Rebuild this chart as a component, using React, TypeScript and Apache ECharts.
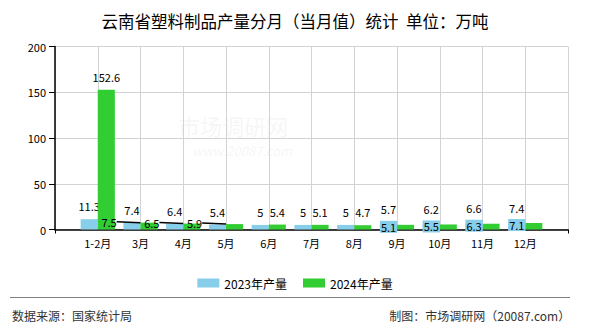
import React, { useEffect, useRef } from "react";
import * as echarts from "echarts";

const categories = ["1-2月", "3月", "4月", "5月", "6月", "7月", "8月", "9月", "10月", "11月", "12月"];
const values2023 = [11.3, 7.4, 6.4, 5.4, 5, 5, 5, 5.7, 6.2, 6.6, 7.4];
const values2024 = [152.6, 7.5, 6.5, 5.9, 5.4, 5.1, 4.7, 5.1, 5.5, 6.3, 7.1];
const yTicks = { min: 0, max: 200, interval: 50 };
const seriesNames = ["2023年产量", "2024年产量"];
const titleText = "云南省塑料制品产量分月（当月值）统计  单位：万吨";
const sourceText = "数据来源：国家统计局";
const makerText = "制图：市场调研网（20087.com）";

// 2024 labels moved to avoid overlap (indices into categories)
const leftShifted = [1, 2, 3];
const belowShifted = [7, 8, 9, 10];

const FONT = "'Noto Sans CJK SC', 'Noto Sans', sans-serif";

export default function App() {
  const ref = useRef<HTMLDivElement>(null);
  useEffect(() => {
    if (!ref.current) return;
    document.body.style.margin = "0";
    const chart = echarts.init(ref.current, null, { renderer: "svg" });
    const xData = ["", ...categories, ""];
    const d2023 = [null, ...values2023, null];
    const d2024: any[] = [
      null,
      ...values2024.map((v, i) => {
        if (belowShifted.includes(i)) {
          return {
            value: v,
            label: {
              backgroundColor: "#87CEEB",
              padding: [0, 1, 0, 1],
            },
          };
        }
        if (leftShifted.includes(i)) {
          return { value: v, labelLine: { show: true } };
        }
        return v;
      }),
      null,
    ];
    const labelStyle = {
      show: true,
      position: "top",
      distance: 7,
      color: "#000",
      fontSize: 11,
      lineHeight: 12,
      fontFamily: FONT,
    };
    chart.setOption({
      animation: false,
      textStyle: { fontFamily: FONT },
      title: {
        text: titleText,
        left: "center",
        top: 8,
        textStyle: { fontSize: 16.5, fontWeight: "normal", color: "#000", fontFamily: FONT },
      },
      legend: {
        top: 272,
        left: "center",
        itemWidth: 22,
        itemHeight: 9,
        itemGap: 16,
        icon: "rect",
        textStyle: { fontSize: 12, color: "#000", fontFamily: FONT },
        data: seriesNames,
      },
      grid: { left: 55, right: 22, top: 46.5, bottom: 100.5, containLabel: false },
      xAxis: {
        type: "category",
        data: xData,
        boundaryGap: false,
        axisLine: { lineStyle: { color: "#000", width: 1.5 } },
        axisTick: {
          show: true,
          length: 4,
          interval: (i: number) => i === 0 || i === xData.length - 1,
          lineStyle: { color: "#000" },
        },
        axisLabel: { interval: 0, color: "#000", fontSize: 11, margin: 8, fontFamily: FONT },
        splitLine: { show: true, lineStyle: { color: "#d3d3d3", width: 1 } },
      },
      yAxis: {
        type: "value",
        min: yTicks.min,
        max: yTicks.max,
        interval: yTicks.interval,
        axisLine: { show: true, lineStyle: { color: "#000", width: 1.5 } },
        axisTick: { show: true, length: 6, lineStyle: { color: "#000" } },
        axisLabel: { color: "#000", fontSize: 11, margin: 9, fontFamily: FONT },
        splitLine: { show: true, lineStyle: { color: "#d3d3d3", width: 1 } },
      },
      labelLayout: (params: any) => {
        const i = params.dataIndex - 1;
        if (params.seriesIndex === 1) {
          if (leftShifted.includes(i)) return { dx: -40, dy: 12 };
          if (belowShifted.includes(i)) return { dx: -17, dy: 15 };
        } else if (belowShifted.includes(i)) {
          return { dy: -2 };
        }
        return {};
      },
      series: [
        {
          name: seriesNames[0],
          type: "bar",
          data: d2023,
          barGap: "0%",
          barCategoryGap: "20%",
          itemStyle: { color: "#87CEEB" },
          label: labelStyle,
        },
        {
          name: seriesNames[1],
          type: "bar",
          data: d2024,
          barGap: "0%",
          barCategoryGap: "20%",
          itemStyle: { color: "#32CD32" },
          label: labelStyle,
          labelLine: { show: false, lineStyle: { color: "#000", width: 1.5 } },
          z: 3,
        },
      ],
      graphic: [
        {
          type: "text",
          left: 178,
          top: 114,
          z: -1,
          style: {
            text: "市场调研网",
            fontSize: 22,
            fontFamily: FONT,
            fill: "rgba(200,200,200,0.18)",
          },
        },
        {
          type: "text",
          left: 192,
          top: 144,
          z: -1,
          style: {
            text: "www.20087.com",
            fontSize: 13,
            fontStyle: "italic",
            fontFamily: FONT,
            fill: "rgba(200,200,200,0.18)",
          },
        },
        {
          type: "line",
          shape: { x1: 10, y1: 297.5, x2: 570, y2: 297.5 },
          style: { stroke: "#808080", lineWidth: 1.2 },
        },
        {
          type: "text",
          left: 12,
          top: 309,
          style: { text: sourceText, fontSize: 12, fill: "#333", fontFamily: FONT },
        },
        {
          type: "text",
          right: 20,
          top: 309,
          style: { text: makerText, fontSize: 12, fill: "#333", fontFamily: FONT },
        },
      ],
    });
    return () => chart.dispose();
  }, []);
  return <div ref={ref} style={{ width: 590, height: 330 }} />;
}
